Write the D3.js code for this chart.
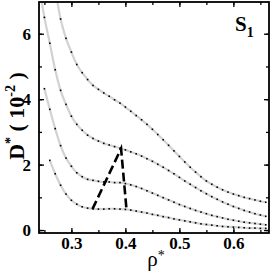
<!DOCTYPE html>
<html>
<head>
<meta charset="utf-8">
<script src="https://cdn.jsdelivr.net/npm/d3@7"></script>
<style>
  body { margin: 0; background: #fff; }
  svg { display: block; }
  text { font-family: 'Liberation Serif', 'Times New Roman', serif; }
</style>
</head>
<body>
<svg></svg>
<script>
// DATA ////////////////////////////////////////////////////////////////////////
// density grid of the dotted series (step 0.01)
const rho = d3.range(25, 67).map(i => i / 100);

// D* (10^-2), one array per isotherm, bottom to top; null = not drawn
const curve1 = [null, 2.13, 1.72, 1.37, 1.10, 0.91, 0.79, 0.71, 0.67, 0.65, 0.64,
  0.64, 0.65, 0.65, 0.64, 0.63, 0.61, 0.58, 0.55, 0.52, 0.48, 0.45, 0.41, 0.38,
  0.34, 0.31, 0.28, 0.25, 0.22, 0.19, 0.17, 0.15, 0.13, 0.11, 0.10, 0.09, 0.08,
  0.07, 0.06, 0.06, 0.05, 0.05];
const curve2 = [4.32, 3.69, 3.10, 2.58, 2.20, 1.95, 1.75, 1.63, 1.55, 1.52, 1.49,
  1.47, 1.47, 1.45, 1.45, 1.42, 1.38, 1.33, 1.27, 1.20, 1.13, 1.06, 0.99, 0.92,
  0.85, 0.78, 0.72, 0.66, 0.60, 0.55, 0.50, 0.45, 0.41, 0.37, 0.33, 0.30, 0.27,
  0.24, 0.22, 0.20, 0.18, 0.16];
const curve3 = [6.50, 5.71, 4.90, 4.27, 3.84, 3.48, 3.23, 3.05, 2.90, 2.80, 2.72,
  2.65, 2.60, 2.55, 2.50, 2.45, 2.39, 2.33, 2.26, 2.18, 2.10, 2.01, 1.92, 1.82,
  1.72, 1.61, 1.50, 1.40, 1.30, 1.20, 1.11, 1.02, 0.94, 0.86, 0.79, 0.72, 0.66,
  0.60, 0.55, 0.50, 0.46, 0.42];
const curve4 = [null, null, null, 6.45, 5.86, 5.44, 5.06, 4.81, 4.60, 4.42, 4.30,
  4.19, 4.09, 3.98, 3.88, 3.76, 3.63, 3.50, 3.37, 3.23, 3.08, 2.92, 2.76, 2.59,
  2.42, 2.25, 2.08, 1.92, 1.77, 1.63, 1.50, 1.40, 1.31, 1.23, 1.16, 1.10, 1.05,
  1.00, 0.96, 0.92, 0.88, 0.85];
// where the gray fits leave the top of the frame
const lead3 = [0.243, 7.2];
const lead4 = [0.272, 7.2];

// dashed boundary (rho*, D*)
const boundaryRho = [0.339, 0.392, 0.402];
const boundaryD = [0.64, 2.49, 0.64];

const xTicks = [0.3, 0.4, 0.5, 0.6];
const yTicks = [0, 2, 4, 6];

// SET PARAMETERS //////////////////////////////////////////////////////////////
const svg = d3.select('svg').attr('width', 273).attr('height', 275);
const margin = { top: 2, right: 4, bottom: 42, left: 39 };
const width = 273 - margin.left - margin.right;
const height = 275 - margin.top - margin.bottom;

const g = svg.append('g')
  .attr('transform', `translate(${margin.left},${margin.top})`);

const x = d3.scaleLinear().domain([0.24, 0.666]).range([0, width]);
const y = d3.scaleLinear().domain([-0.09, 6.97]).range([height, 0]);

svg.append('defs').append('clipPath').attr('id', 'clip')
  .append('rect').attr('width', width).attr('height', height);

// DRAW ////////////////////////////////////////////////////////////////////////
const plot = g.append('g').attr('clip-path', 'url(#clip)');

const line = d3.line()
  .x(d => x(d[0])).y(d => y(d[1]))
  .curve(d3.curveCatmullRom);

const series = [
  { vals: curve1, lead: null },
  { vals: curve2, lead: null },
  { vals: curve3, lead: lead3 },
  { vals: curve4, lead: lead4 }
];

series.forEach(s => {
  let pts = rho.map((r, i) => [r, s.vals[i]]).filter(d => d[1] != null);
  const full = s.lead ? [s.lead].concat(pts) : pts;
  plot.append('path')
    .attr('d', line(full))
    .attr('fill', 'none')
    .attr('stroke', '#d2d2d2')
    .attr('stroke-width', 2.2);
  plot.selectAll(null)
    .data(pts)
    .enter()
    .append('rect')
    .attr('x', d => x(d[0]) - 0.8)
    .attr('y', d => y(d[1]) - 0.8)
    .attr('width', 1.6)
    .attr('height', 1.6)
    .attr('fill', '#000');
});

// dashed line
plot.append('path')
  .attr('d', d3.line().x(d => x(d[0])).y(d => y(d[1]))(
    boundaryRho.map((r, i) => [r, boundaryD[i]])))
  .attr('fill', 'none')
  .attr('stroke', '#000')
  .attr('stroke-width', 2.6)
  .attr('stroke-dasharray', '9,4');

// axes (ticks inward on all four sides)
const minorX = d3.range(0.25, 0.666, 0.05);
const minorY = d3.range(0, 7, 1);

function styleAxis(sel) {
  sel.select('.domain').remove();
  sel.selectAll('line').attr('stroke', '#000').attr('stroke-width', 1.3);
  sel.selectAll('text')
    .attr('font-size', 17)
    .attr('font-weight', 'bold')
    .attr('fill', '#000');
}

g.append('g').attr('transform', `translate(0,${height})`)
  .call(d3.axisBottom(x).tickValues(minorX).tickSize(-3).tickFormat(''))
  .call(styleAxis);
g.append('g').attr('transform', `translate(0,${height})`)
  .call(d3.axisBottom(x).tickValues(xTicks).tickSize(-5).tickPadding(4).tickFormat(d3.format('.1f')))
  .call(styleAxis);
g.append('g')
  .call(d3.axisTop(x).tickValues(minorX).tickSize(-3).tickFormat(''))
  .call(styleAxis);
g.append('g')
  .call(d3.axisTop(x).tickValues(xTicks).tickSize(-5).tickFormat(''))
  .call(styleAxis);

g.append('g')
  .call(d3.axisLeft(y).tickValues(minorY).tickSize(-3).tickFormat(''))
  .call(styleAxis);
g.append('g')
  .call(d3.axisLeft(y).tickValues(yTicks).tickSize(-5).tickPadding(8).tickFormat(d3.format('d')))
  .call(styleAxis);
g.append('g').attr('transform', `translate(${width},0)`)
  .call(d3.axisRight(y).tickValues(minorY).tickSize(-3).tickFormat(''))
  .call(styleAxis);
g.append('g').attr('transform', `translate(${width},0)`)
  .call(d3.axisRight(y).tickValues(yTicks).tickSize(-5).tickFormat(''))
  .call(styleAxis);

// frame
g.append('rect')
  .attr('width', width).attr('height', height)
  .attr('fill', 'none').attr('stroke', '#000').attr('stroke-width', 1.8);

// y title
const yt = svg.append('text')
  .attr('transform', 'translate(24,116) rotate(-90)')
  .attr('text-anchor', 'middle')
  .attr('font-size', 22)
  .attr('font-weight', 'bold');
yt.append('tspan').text('D');
yt.append('tspan').attr('dy', -9).attr('font-size', 14).text('*');
yt.append('tspan').attr('dy', 9).text(' ( 10');
yt.append('tspan').attr('dy', -9).attr('font-size', 14).text('-2');
yt.append('tspan').attr('dy', 9).text(' )');

// x title
const xt = svg.append('text')
  .attr('x', 156).attr('y', 266)
  .attr('text-anchor', 'middle')
  .attr('font-size', 21);
xt.append('tspan').text('ρ');
xt.append('tspan').attr('dy', -6).attr('font-size', 14).text('*');

// panel label
const st = svg.append('text')
  .attr('x', 235).attr('y', 31)
  .attr('font-size', 21)
  .attr('font-weight', 'bold');
st.append('tspan').text('S');
st.append('tspan').attr('dy', 6).attr('font-size', 14).text('1');
</script>
</body>
</html>
